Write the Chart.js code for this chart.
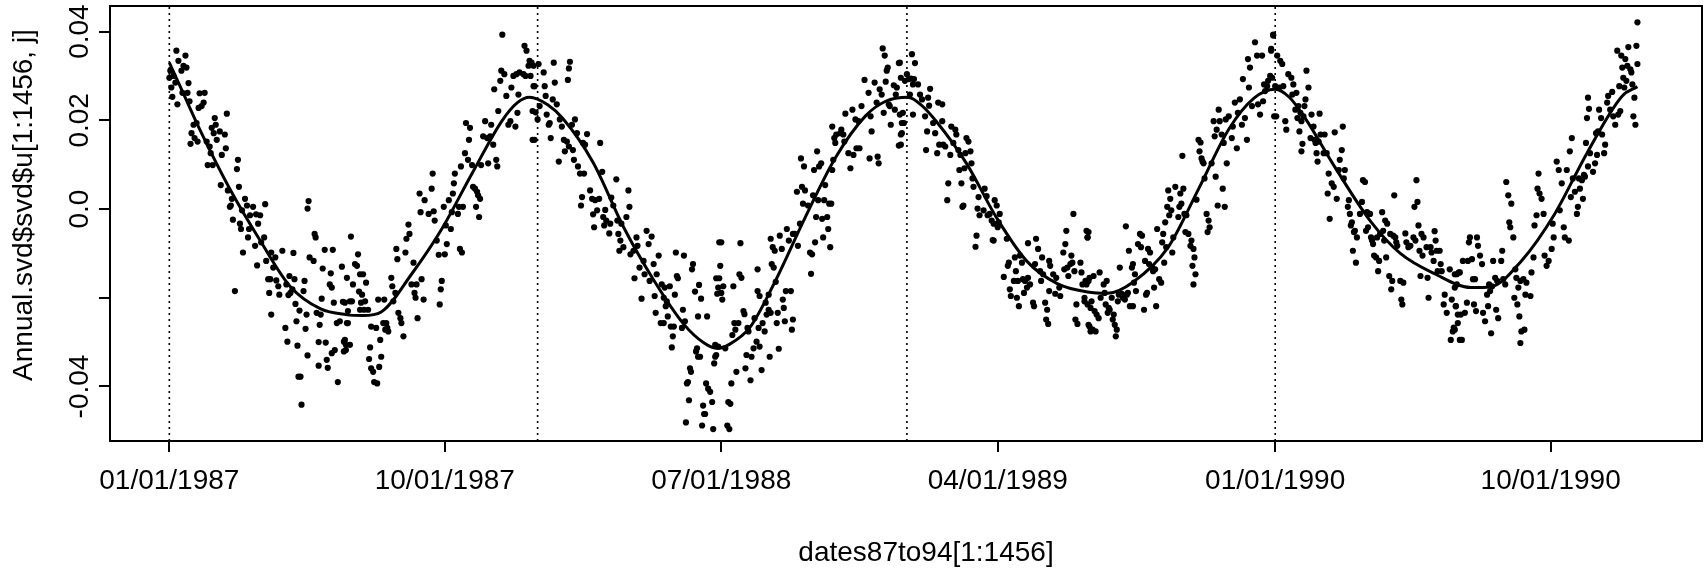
<!DOCTYPE html>
<html>
<head>
<meta charset="utf-8">
<title>Annual.svd$svd$u[1:1456, j]</title>
<script src="https://cdn.jsdelivr.net/npm/chart.js@4/dist/chart.umd.min.js"></script>
<style>
  html, body { margin: 0; padding: 0; background: #fff; }
  canvas { display: block; }
</style>
</head>
<body>
<canvas id="svd-chart" width="1707" height="569" style="width:1707px;height:569px"></canvas>
<script>
// =====================
// Daily annual SVD component, 1987-1990, with its smooth fit
// =====================

// x values are day numbers counted from 01/01/1987
const xTickDays = [0, 273, 547, 821, 1096, 1369];
const xTickLabels = ['01/01/1987', '10/01/1987', '07/01/1988', '04/01/1989', '01/01/1990', '10/01/1990'];
const yearStartDays = [0, 365, 731, 1096];

const yTickValues = [-0.04, -0.02, 0, 0.02, 0.04];
const yTickLabels = ['-0.04', '', '0.0', '0.02', '0.04'];

const xLimits = [-58.8, 1519];
const yLimits = [-0.05229, 0.04577];

// smooth seasonal fit, [day] and [value]
const fitDays = [0, 15, 30, 60, 90, 120, 150, 175, 192, 210, 240, 270, 300, 330, 345, 357, 375, 390, 420, 450,
  480, 510, 530, 543, 555, 575, 600, 630, 660, 690, 710, 732, 745, 760, 790, 820, 850, 880, 910, 930,
  955, 990, 1020, 1050, 1075, 1096, 1110, 1125, 1155, 1190, 1220, 1255, 1290, 1310, 1340, 1373, 1405, 1440, 1455];
const fitValues = [.0330, .0255, .0180, .0045, -.0071, -.0175, -.0225, -.0238, -.0240, -.0232, -.0147, -.0045, .0080, .0200, .0240, .0252, .0235, .0204, .0105, -.0040,
  -.0160, -.0260, -.0302, -.0314, -.0305, -.0268, -.0165, -.0020, .0115, .0210, .0243, .0252, .0235, .0198, .0103, -.0020, -.0118, -.0168, -.0187, -.0190,
  -.0165, -.0086, .0045, .0180, .0250, .0270, .0252, .0207, .0095, -.0026, -.0100, -.0147, -.0177, -.0175, -.0117, -.0011, .0126, .0255, .0276];

// observations as [day, value], one block per season
const obs1987a = [[7,.0357],[16,.0346],[9,.0334],[14,.0323],[17,.0319],[12,.0312],[1,.0312],[4,.0300],[0,.0296],[6,.0285],[19,.0284],[2,.0274],[13,.0262],[18,.0262],[3,.0253],[8,.0236],[20,.0243],[30,.0261],[35,.0262],[32,.0232],[29,.0228],[34,.0240],[57,.0215],[45,.0205],[24,.0190],[27,.0194],[46,.0190],[22,.0171],[25,.0160],[21,.0147],[28,.0152],[42,.0183],[44,.0171],[50,.0175],[55,.0168],[37,.0152],[47,.0156],[40,.0141],[56,.0137],[41,.0126],[52,.0122],[38,.0099],[43,.0099],[68,.0111],[67,.0090],[51,.0054],[69,.0050],[58,.0042],[62,.0023],[60,.0005],[61,.0008],[75,.0023],[77,.0008],[83,.0005],[95,.0011],[72,-.0003],[80,-.0014],[86,-.0012],[90,-.0014],[63,-.0024],[88,-.0033],[70,-.0033],[71,-.0045],[79,-.0045],[78,-.0064],[94,-.0064],[85,-.0083],[73,-.0098],[87,-.0127],[91,-.0075],[96,-.0117],[101,-.0098],[105,-.0109],[103,-.0132],[112,-.0094],[123,-.0099],[138,.0018],[137,.0001],[144,-.0056],[145,-.0064],[154,-.0092],[162,-.0092],[139,-.0109],[143,-.0117],[171,-.0130],[152,-.0134],[160,-.0145],[176,-.0155],[100,-.0158],[98,-.0158],[106,-.0161],[119,-.0151],[124,-.0158],[134,-.0162],[108,-.0174],[116,-.0170],[122,-.0181],[133,-.0185],[159,-.0170],[161,-.0177],[99,-.0189],[109,-.0193],[118,-.0194],[120,-.0189],[125,-.0214],[151,-.0202],[163,-.0211],[172,-.0209],[179,-.0208],[65,-.0185],[101,-.0238],[129,-.0229],[136,-.0238],[146,-.0234],[150,-.0238],[166,-.0257],[169,-.0253],[177,-.0257],[115,-.0268],[126,-.0253],[135,-.0270],[149,-.0261],[117,-.0299],[127,-.0308],[148,-.0300],[155,-.0301],[174,-.0295],[175,-.0306],[164,-.0318],[161,-.0325],[173,-.0321],[137,-.0330],[156,-.0340],[148,-.0353],[157,-.0358],[128,-.0378],[130,-.0378],[167,-.0390],[131,-.0441]];
const obs1987b = [[174,-.0211],[176,-.0257],[177,-.0230],[173,-.0299],[175,-.0318],[179,-.0306],[181,-.0208],[182,-.0170],[180,-.0062],[184,-.0124],[186,-.0128],[187,-.0102],[189,-.0147],[192,-.0147],[195,-.0166],[188,-.0186],[191,-.0193],[194,-.0208],[190,-.0211],[189,-.0227],[193,-.0227],[197,-.0227],[200,-.0265],[205,-.0268],[207,-.0204],[199,-.0312],[198,-.0338],[200,-.0359],[202,-.0367],[203,-.0390],[206,-.0393],[208,-.0356],[209,-.0295],[210,-.0333],[212,-.0257],[214,-.0272],[215,-.0257],[216,-.0268],[217,-.0276],[213,-.0204],[220,-.0155],[221,-.0174],[224,-.0189],[222,-.0208],[225,-.0090],[226,-.0113],[227,-.0234],[229,-.0246],[230,-.0257],[232,-.0287],[234,-.0098],[235,-.0067],[237,-.0035],[238,-.0056],[242,-.0121],[240,-.0170],[243,-.0189],[245,-.0170],[244,-.0200],[250,-.0158],[252,-.0204],[246,-.0246],[248,.0035],[253,.0020],[249,-.0007],[257,-.0011],[260,.0046],[261,.0080],[262,-.0005],[263,-.0026],[265,-.0071],[267,-.0103],[268,-.0215],[270,-.0162],[269,-.0181],[273,-.0102],[272,.0005],[274,-.0037],[277,.0020],[275,-.0079],[280,-.0007],[279,-.0045],[281,.0035],[282,.0058],[283,.0080],[286,-.0011],[288,-.0090],[290,-.0098],[287,.0005],[291,.0005],[289,.0096],[293,.0126],[294,.0194],[298,.0183],[297,.0156],[296,.0111],[300,.0099],[301,.0050],[303,.0046],[305,.0039],[306,.0031],[308,.0023],[304,.0005],[307,-.0018],[309,.0099],[311,.0164],[313,.0198],[315,.0160],[318,.0164],[319,.0190],[316,.0103],[321,.0145],[324,.0111],[325,.0096],[326,.0221],[322,.0270],[328,.0289],[329,.0312],[332,.0304],[334,.0255],[330,.0393],[336,.0190],[338,.0198],[343,.0186],[341,.0300],[344,.0304],[347,.0308],[346,.0258],[345,.0217],[352,.0368],[354,.0357],[356,.0323],[357,.0334],[353,.0300],[361,.0277],[360,.0221],[362,.0156],[351,.0304],[339,.0274]];
const obs1988a = [[359,.0330],[361,.0323],[366,.0327],[358,.0300],[362,.0277],[371,.0308],[372,.0277],[382,.0285],[381,.0330],[397,.0332],[396,.0317],[395,.0291],[373,.0255],[380,.0247],[384,.0236],[367,.0232],[363,.0218],[365,.0202],[374,.0213],[376,.0190],[377,.0194],[387,.0202],[389,.0186],[402,.0202],[399,.0190],[360,.0156],[378,.0160],[391,.0156],[394,.0152],[392,.0130],[396,.0141],[404,.0171],[414,.0169],[412,.0145],[400,.0133],[410,.0149],[386,.0107],[401,.0111],[405,.0096],[407,.0080],[411,.0080],[427,.0149],[429,.0084],[443,.0067],[409,.0027],[408,.0008],[417,.0042],[419,.0023],[422,.0020],[426,.0023],[420,-.0012],[424,-.0003],[432,-.0002],[438,.0026],[440,.0008],[430,-.0018],[433,-.0026],[421,-.0041],[431,-.0037],[437,-.0033],[444,-.0026],[436,-.0055],[445,-.0056],[448,-.0033],[453,-.0018],[456,.0005],[455,.0042],[447,-.0071],[446,-.0094],[450,-.0086],[457,-.0102],[460,-.0094],[463,-.0064],[473,-.0049],[478,-.0062],[475,-.0079],[464,-.0083],[470,-.0117],[466,-.0132],[471,-.0147],[461,-.0156],[476,-.0162],[480,-.0124],[485,-.0105],[483,-.0147],[488,-.0170],[491,-.0177],[496,-.0174],[481,-.0196],[490,-.0200],[493,-.0208],[501,-.0193],[468,-.0202],[492,-.0219],[494,-.0242],[482,-.0234],[487,-.0257],[490,-.0257],[497,-.0265],[500,-.0265],[499,-.0287],[498,-.0312],[508,-.0268],[511,-.0253],[509,-.0227],[503,-.0151],[504,-.0156],[502,-.0098],[510,-.0105],[519,-.0124],[518,-.0136],[521,-.0186],[527,-.0202],[525,-.0171],[524,-.0242],[533,-.0242],[523,-.0314],[522,-.0321],[526,-.0333],[524,-.0333],[516,-.0359],[517,-.0367],[513,-.0393],[514,-.0390],[515,-.0431],[512,-.0481],[532,-.0393],[534,-.0405],[536,-.0412],[538,-.0435],[529,-.0443],[531,-.0462],[530,-.0462],[528,-.0488],[539,-.0496],[541,-.0333],[540,-.0348],[543,-.0191],[544,-.0177],[542,-.0156],[545,-.0075]];
const obs1988b = [[541,-.0306],[542,-.0329],[544,-.0310],[551,-.0314],[547,-.0075],[566,-.0077],[546,-.0128],[545,-.0156],[549,-.0174],[547,-.0189],[548,-.0204],[559,-.0174],[565,-.0147],[567,-.0155],[554,-.0435],[556,-.0439],[553,-.0488],[555,-.0496],[557,-.0393],[562,-.0367],[571,-.0359],[576,-.0386],[572,-.0329],[579,-.0314],[577,-.0333],[585,-.0310],[587,-.0363],[595,-.0333],[604,-.0315],[582,-.0299],[558,-.0284],[561,-.0272],[560,-.0257],[564,-.0257],[569,-.0230],[570,-.0237],[574,-.0276],[573,-.0268],[580,-.0246],[584,-.0268],[588,-.0257],[590,-.0276],[592,-.0238],[594,-.0227],[596,-.0234],[602,-.0257],[603,-.0234],[610,-.0253],[617,-.0272],[618,-.0249],[609,-.0223],[608,-.0204],[591,-.0211],[583,-.0185],[585,-.0196],[594,-.0193],[601,-.0164],[611,-.0185],[616,-.0185],[583,-.0136],[597,-.0124],[599,-.0132],[596,-.0067],[598,-.0086],[600,-.0094],[605,-.0060],[607,-.0090],[612,-.0045],[614,-.0071],[618,-.0056],[620,-.0056],[625,-.0033],[635,-.0098],[637,-.0102],[636,-.0146],[623,-.0083],[640,-.0075],[648,-.0064],[655,-.0086],[653,-.0045],[652,-.0018],[647,-.0022],[641,-.0018],[633,.0008],[628,.0012],[622,.0039],[627,.0050],[630,.0042],[638,.0031],[643,.0020],[649,.0020],[654,.0012],[656,.0012],[629,.0096],[626,.0114],[639,.0088],[644,.0096],[646,.0103],[642,.0130],[650,.0054],[657,.0088],[658,.0111],[660,.0149],[659,.0160],[661,.0168],[665,.0171],[668,.0168],[657,.0186],[666,.0179],[670,.0215],[669,.0152],[673,.0126],[675,.0092],[678,.0122],[681,.0137],[680,.0202],[677,.0224],[683,.0198],[686,.0232],[684,.0137],[694,.0114],[696,.0175],[703,.0103],[702,.0118],[695,.0209],[693,.0262],[689,.0291],[699,.0285],[704,.0270],[706,.0258],[701,.0240],[708,.0217],[713,.0236],[709,.0346],[707,.0362],[712,.0319],[711,.0312],[710,.0287],[718,.0279],[723,.0329],[721,.0274],[720,.0258],[714,.0232],[715,.0190],[719,.0224],[724,.0213],[726,.0194],[725,.0168],[723,.0143],[729,.0289]];
const obs1989a = [[724,.0330],[725,.0296],[736,.0349],[739,.0329],[731,.0304],[733,.0293],[735,.0294],[738,.0293],[737,.0281],[742,.0281],[734,.0258],[744,.0258],[737,.0213],[727,.0217],[728,.0194],[726,.0171],[725,.0145],[746,.0247],[749,.0209],[752,.0251],[754,.0271],[753,.0233],[762,.0240],[766,.0236],[757,.0194],[759,.0171],[751,.0175],[750,.0133],[761,.0126],[763,.0145],[767,.0145],[766,.0198],[769,.0141],[774,.0122],[775,.0186],[779,.0179],[780,.0168],[777,.0149],[782,.0133],[784,.0122],[789,.0126],[794,.0130],[790,.0160],[792,.0152],[795,.0103],[783,.0088],[788,.0092],[785,.0058],[796,.0069],[772,.0058],[771,.0020],[786,.0005],[787,.0008],[797,.0050],[802,.0027],[801,.0001],[803,-.0014],[808,.0046],[810,.0029],[818,.0020],[820,.0008],[807,-.0003],[811,-.0014],[813,-.0011],[815,-.0026],[817,-.0033],[823,-.0011],[822,-.0030],[821,-.0041],[816,-.0070],[800,-.0060],[799,-.0085],[830,-.0067],[817,-.0071],[832,-.0121],[831,-.0128],[827,-.0153],[838,-.0109],[843,-.0105],[845,-.0121],[839,-.0140],[837,-.0162],[841,-.0162],[846,-.0158],[848,-.0162],[851,-.0155],[853,-.0170],[850,-.0177],[847,-.0189],[833,-.0181],[834,-.0196],[840,-.0200],[842,-.0219],[856,-.0211],[857,-.0219],[868,-.0211],[870,-.0227],[869,-.0249],[871,-.0259],[851,-.0077],[859,-.0067],[861,-.0090],[865,-.0109],[858,-.0124],[863,-.0140],[866,-.0147],[864,-.0162],[872,-.0117],[873,-.0128],[876,-.0147],[879,-.0155],[872,-.0185],[878,-.0191],[883,-.0196],[882,-.0177],[886,-.0098],[888,-.0079],[889,-.0049],[896,-.0011],[894,-.0105],[895,-.0121],[893,-.0124],[890,-.0132],[897,-.0140],[887,-.0136],[891,-.0151],[903,-.0121],[904,-.0143],[905,-.0170],[908,-.0162],[909,-.0170],[907,-.0208],[899,-.0215],[898,-.0249],[900,-.0259],[910,-.0064],[911,-.0052],[912,-.0265],[913,-.0276]];
const obs1989b = [[909,-.0049],[910,-.0064],[911,-.0162],[912,-.0155],[907,-.0200],[910,-.0215],[914,-.0208],[916,-.0151],[913,-.0223],[917,-.0230],[919,-.0238],[921,-.0246],[911,-.0261],[915,-.0272],[918,-.0276],[922,-.0143],[926,-.0170],[929,-.0162],[927,-.0189],[923,-.0200],[928,-.0215],[931,-.0223],[930,-.0234],[932,-.0227],[936,-.0238],[935,-.0249],[937,-.0261],[939,-.0272],[938,-.0287],[934,-.0200],[940,-.0208],[942,-.0132],[941,-.0193],[944,-.0191],[945,-.0200],[947,-.0204],[949,-.0193],[950,-.0189],[948,-.0039],[951,-.0094],[954,-.0132],[955,-.0124],[957,-.0147],[956,-.0166],[958,-.0185],[952,-.0219],[955,-.0219],[962,-.0056],[964,-.0060],[960,-.0079],[963,-.0086],[967,-.0117],[970,-.0090],[972,-.0098],[971,-.0124],[974,-.0132],[975,-.0140],[977,-.0136],[979,-.0045],[981,-.0158],[983,-.0166],[976,-.0177],[969,-.0189],[968,-.0193],[966,-.0227],[978,-.0219],[987,-.0030],[985,-.0056],[984,-.0075],[988,-.0086],[986,-.0121],[990,.0042],[992,.0023],[989,.0005],[991,-.0014],[993,-.0003],[994,-.0098],[995,-.0064],[997,.0050],[1000,-.0018],[1002,.0035],[1003,.0012],[1005,.0046],[1001,.0005],[1006,-.0011],[1007,-.0052],[1010,-.0056],[1008,-.0014],[1013,-.0071],[1012,-.0083],[1015,-.0090],[1016,-.0109],[1014,-.0128],[1017,-.0147],[1015,-.0170],[1004,.0120],[1020,.0156],[1021,.0130],[1023,.0114],[1024,.0107],[1025,.0103],[1022,.0150],[1018,.0021],[1026,.0069],[1028,-.0011],[1030,-.0026],[1031,-.0041],[1029,-.0052],[1033,.0103],[1035,.0198],[1036,.0164],[1038,.0179],[1040,.0224],[1041,.0198],[1043,.0168],[1045,.0149],[1037,.0073],[1039,.0008],[1044,.0046],[1046,.0005],[1048,.0103],[1047,.0202],[1050,.0209],[1053,.0160],[1054,.0186],[1056,.0240],[1058,.0137],[1059,.0217],[1061,.0247],[1063,.0190],[1064,.0293],[1066,.0205],[1068,.0156],[1069,.0338],[1071,.0319],[1070,.0274],[1073,.0232],[1076,.0376],[1078,.0346],[1079,.0236],[1081,.0213],[1083,.0346],[1084,.0243],[1085,.0281],[1088,.0277],[1086,.0266],[1089,.0289],[1091,.0300],[1092,.0357],[1094,.0391],[1095,.0209]];
const obs1990a = [[1094,.0393],[1092,.0361],[1098,.0346],[1101,.0334],[1103,.0327],[1093,.0296],[1096,.0277],[1100,.0274],[1104,.0277],[1097,.0209],[1106,.0198],[1107,.0179],[1109,.0304],[1112,.0296],[1114,.0281],[1113,.0258],[1117,.0262],[1116,.0224],[1118,.0205],[1121,.0217],[1119,.0232],[1126,.0247],[1125,.0232],[1127,.0312],[1129,.0274],[1122,.0198],[1120,.0175],[1124,.0209],[1132,.0213],[1140,.0215],[1134,.0186],[1131,.0160],[1123,.0147],[1122,.0130],[1135,.0156],[1136,.0149],[1141,.0168],[1145,.0168],[1139,.0152],[1137,.0126],[1138,.0107],[1144,.0126],[1147,.0126],[1155,.0173],[1163,.0186],[1162,.0133],[1160,.0111],[1165,.0088],[1164,.0069],[1159,.0088],[1149,.0080],[1152,.0058],[1154,.0050],[1148,.0035],[1157,.0023],[1150,-.0022],[1169,.0020],[1168,.0005],[1170,-.0011],[1172,-.0030],[1171,-.0037],[1175,-.0049],[1177,-.0064],[1174,-.0052],[1173,-.0094],[1176,-.0121],[1180,-.0011],[1182,.0016],[1185,.0061],[1183,.0065],[1187,-.0007],[1190,-.0011],[1188,-.0041],[1186,-.0049],[1192,-.0071],[1193,-.0079],[1191,-.0064],[1197,-.0064],[1200,-.0056],[1203,-.0049],[1202,-.0007],[1205,-.0026],[1207,-.0033],[1204,-.0071],[1194,-.0105],[1196,-.0109],[1199,-.0117],[1206,-.0109],[1198,-.0140],[1210,-.0056],[1213,-.0060],[1215,-.0064],[1216,-.0075],[1214,.0031],[1217,-.0083],[1209,-.0151],[1212,-.0162],[1211,-.0181],[1220,-.0162],[1223,-.0166],[1221,-.0204],[1222,-.0215],[1225,-.0055],[1226,-.0075],[1228,-.0086],[1230,-.0083],[1233,-.0064],[1235,-.0071],[1236,.0065],[1237,.0016],[1234,.0005],[1238,-.0037],[1241,-.0056],[1243,-.0064],[1239,-.0094],[1242,-.0105],[1246,-.0086],[1250,-.0086],[1251,-.0098],[1254,-.0050],[1255,-.0071],[1256,-.0094],[1259,-.0094],[1253,-.0117],[1257,-.0140],[1260,-.0124],[1261,-.0140],[1240,-.0151],[1247,-.0155],[1248,-.0200],[1269,-.0136],[1274,-.0147],[1276,-.0170],[1278,-.0143],[1264,-.0193],[1263,-.0215],[1266,-.0234],[1271,-.0204],[1275,-.0219],[1277,-.0238],[1273,-.0267],[1272,-.0276],[1270,-.0295],[1279,-.0295]];
const obs1990b = [[1274,-.0177],[1276,-.0147],[1279,-.0143],[1275,-.0219],[1277,-.0257],[1280,-.0238],[1274,-.0272],[1281,-.0295],[1284,-.0234],[1286,-.0211],[1282,-.0117],[1287,-.0117],[1291,-.0113],[1289,-.0064],[1288,-.0075],[1296,-.0064],[1297,-.0083],[1299,-.0105],[1294,-.0158],[1292,-.0158],[1301,-.0124],[1293,-.0215],[1295,-.0230],[1302,-.0234],[1304,-.0253],[1307,-.0219],[1306,-.0193],[1309,-.0185],[1308,-.0170],[1311,-.0174],[1312,-.0117],[1314,-.0155],[1316,-.0162],[1320,-.0117],[1321,-.0094],[1315,-.0227],[1317,-.0246],[1310,-.0280],[1322,-.0158],[1324,-.0170],[1325,.0061],[1327,.0031],[1330,.0012],[1328,-.0030],[1329,-.0041],[1332,-.0064],[1334,-.0136],[1335,-.0155],[1337,-.0177],[1333,-.0200],[1339,-.0162],[1342,-.0158],[1345,-.0166],[1344,-.0193],[1349,-.0196],[1336,-.0215],[1338,-.0242],[1340,-.0276],[1339,-.0302],[1343,-.0272],[1350,-.0143],[1352,-.0109],[1353,-.0037],[1355,-.0014],[1357,.0080],[1356,.0046],[1358,.0035],[1360,.0023],[1362,-.0011],[1363,-.0105],[1365,-.0128],[1367,-.0117],[1370,-.0090],[1371,-.0033],[1372,-.0064],[1375,.0107],[1377,.0088],[1380,.0058],[1378,-.0003],[1382,-.0041],[1383,-.0064],[1385,.0088],[1387,-.0071],[1388,.0130],[1390,.0160],[1391,.0069],[1389,.0027],[1393,.0039],[1395,-.0011],[1396,.0005],[1398,.0046],[1400,.0065],[1401,.0023],[1397,.0069],[1402,.0077],[1403,.0073],[1406,.0251],[1407,.0226],[1405,.0205],[1404,.0149],[1408,.0126],[1406,.0096],[1411,.0084],[1413,.0103],[1415,.0122],[1414,.0171],[1416,.0175],[1420,.0168],[1417,.0224],[1419,.0205],[1423,.0145],[1422,.0126],[1425,.0240],[1426,.0255],[1430,.0264],[1428,.0224],[1431,.0209],[1433,.0190],[1436,.0213],[1438,.0221],[1435,.0357],[1439,.0346],[1440,.0319],[1443,.0338],[1441,.0296],[1446,.0365],[1445,.0323],[1448,.0315],[1449,.0308],[1444,.0289],[1437,.0277],[1442,.0274],[1451,.0209],[1453,.0190],[1454,.0368],[1455,.0327],[1455,.0421],[1452,.0251],[1450,.0281]];

const FONT = "'Liberation Sans', Arial, Helvetica, sans-serif";

// all observation blocks as one scatter series
const observations = [obs1987a, obs1987b, obs1988a, obs1988b, obs1989a, obs1989b, obs1990a, obs1990b]
    .flat()
    .map(([d, v]) => ({x: d, y: v}));

// R-style box, rotated y tick labels and axis titles
const rAxesPlugin = {
    id: 'rAxes',
    afterDraw(chart) {
        const {ctx, chartArea: area, scales: {y}} = chart;
        ctx.save();

        // full frame around the plot region
        ctx.strokeStyle = '#000';
        ctx.lineWidth = 2;
        ctx.strokeRect(area.left, area.top, area.right - area.left, area.bottom - area.top);

        ctx.fillStyle = '#000';
        ctx.font = '28px ' + FONT;
        ctx.textAlign = 'center';
        ctx.textBaseline = 'middle';

        // y tick labels read bottom-to-top
        yTickValues.forEach((v, i) => {
            if (!yTickLabels[i]) return;
            ctx.save();
            ctx.translate(80, y.getPixelForValue(v));
            ctx.rotate(-Math.PI / 2);
            ctx.fillText(yTickLabels[i], 0, 0);
            ctx.restore();
        });

        // y title
        ctx.save();
        ctx.translate(24, 205);
        ctx.rotate(-Math.PI / 2);
        ctx.fillText('Annual.svd$svd$u[1:1456, j]', 0, 0);
        ctx.restore();

        // x title
        ctx.fillText('dates87to94[1:1456]', 926, 553);

        ctx.restore();
    }
};

// dotted verticals at each new year
const yearLines = yearStartDays.map(d => ({
    type: 'line',
    data: [{x: d, y: yLimits[0]}, {x: d, y: yLimits[1]}],
    borderColor: '#000',
    borderWidth: 1.6,
    borderDash: [2, 4],
    pointRadius: 0,
    fill: false,
    order: 2
}));

const ctx = document.getElementById('svd-chart').getContext('2d');

const svdChart = new Chart(ctx, {
    type: 'scatter',
    data: {
        datasets: [
            {
                label: 'daily',
                data: observations,
                backgroundColor: '#000',
                borderWidth: 0,
                pointRadius: 3.1,
                pointHoverRadius: 3.1,
                order: 3
            },
            ...yearLines,
            {
                type: 'line',
                label: 'fit',
                data: fitDays.map((d, i) => ({x: d, y: fitValues[i]})),
                borderColor: '#000',
                borderWidth: 3,
                pointRadius: 0,
                cubicInterpolationMode: 'monotone',
                fill: false,
                order: 1
            }
        ]
    },
    options: {
        responsive: false,
        devicePixelRatio: 1,
        animation: false,
        events: [],
        layout: {
            padding: {left: 0, right: 5, top: 6, bottom: 0}
        },
        plugins: {
            legend: {display: false},
            tooltip: {enabled: false}
        },
        scales: {
            x: {
                type: 'linear',
                min: xLimits[0],
                max: xLimits[1],
                afterBuildTicks: scale => {
                    scale.ticks = xTickDays.map(v => ({value: v}));
                },
                afterFit: scale => {
                    scale.height = 128;
                },
                border: {display: false},
                grid: {
                    drawOnChartArea: false,
                    drawTicks: true,
                    tickLength: 11,
                    color: '#000',
                    lineWidth: 2
                },
                ticks: {
                    autoSkip: false,
                    maxRotation: 0,
                    minRotation: 0,
                    padding: 12,
                    color: '#000',
                    font: {family: FONT, size: 28},
                    callback: (value, index) => xTickLabels[index]
                }
            },
            y: {
                type: 'linear',
                min: yLimits[0],
                max: yLimits[1],
                afterBuildTicks: scale => {
                    scale.ticks = yTickValues.map(v => ({value: v}));
                },
                afterFit: scale => {
                    scale.width = 110;
                },
                border: {display: false},
                grid: {
                    drawOnChartArea: false,
                    drawTicks: true,
                    tickLength: 11,
                    color: '#000',
                    lineWidth: 2
                },
                ticks: {display: false}
            }
        }
    },
    plugins: [rAxesPlugin]
});
</script>
</body>
</html>
